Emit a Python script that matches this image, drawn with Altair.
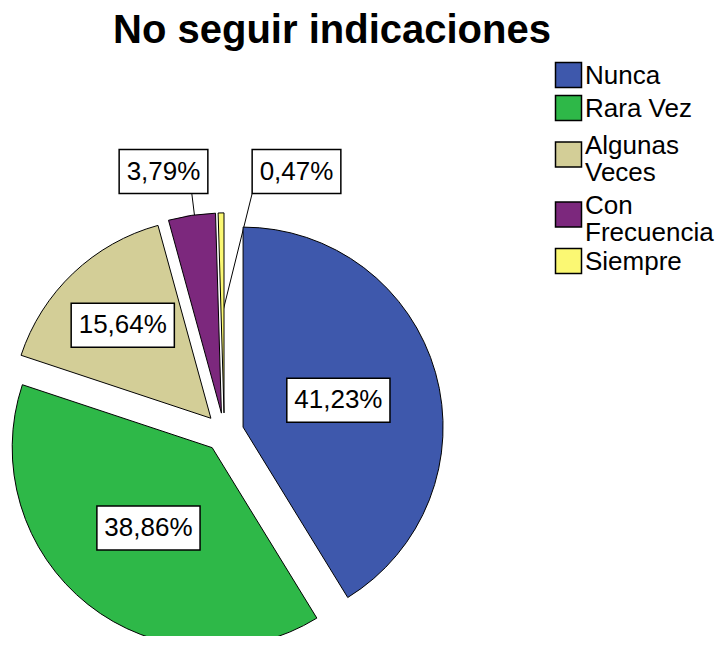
import altair as alt
import pandas as pd

title_text = "No seguir indicaciones"
categories = ["Nunca", "Rara Vez", "Algunas Veces", "Con Frecuencia", "Siempre"]
legend_labels = ["Nunca", "Rara Vez", "Algunas\nVeces", "Con\nFrecuencia", "Siempre"]
percentages = [41.23, 38.86, 15.64, 3.79, 0.47]
colors = ["#3E58AC", "#2EB848", "#D3CE97", "#7C287D", "#FBF873"]

FONT = "Liberation Sans"
CX, CY, R, D = 216.3, 424.4, 200, 19.5
FS = 26
LFS = 26
LH = 27

df = pd.DataFrame({
    "cat": categories,
    "leg": legend_labels,
    "pct": percentages,
    "order": list(range(len(categories))),
})

base = (
    alt.Chart(df)
    .transform_joinaggregate(total="sum(pct)")
    .transform_window(cum="sum(pct)", sort=[alt.SortField("order")], frame=[None, 0])
    .transform_calculate(
        t1="datum.cum / datum.total * 2 * PI",
        t0="(datum.cum - datum.pct) / datum.total * 2 * PI",
    )
    .transform_calculate(mid="(datum.t0 + datum.t1) / 2", span="datum.t1 - datum.t0")
    .transform_calculate(
        cx=f"{CX} + {D} * sin(datum.mid)",
        cy=f"{CY} - {D} * cos(datum.mid)",
        inside="datum.pct >= 5 ? 1 : 0",
        label="replace(format(datum.pct, '.2f'), '.', ',') + '%'",
        rc=f"4 * {R} * sin(datum.span / 2) / (3 * datum.span)",
    )
    .transform_window(srank="row_number()", groupby=["inside"], sort=[alt.SortField("order")])
    .transform_calculate(
        lx=f"datum.inside ? datum.cx + datum.rc * sin(datum.mid) : 222 + (datum.srank - 1.5) * 133",
        ly=f"datum.inside ? datum.cy - datum.rc * cos(datum.mid) : 163.5",
        ox=f"datum.cx + {R} * sin(datum.mid)",
        ix=f"datum.cx + {R} * 0.5 * sin(datum.mid)",
        iy=f"datum.cy - {R} * 0.5 * cos(datum.mid)",
        bw=f"(length(datum.label) - 2) * 0.556 * {FS} + 1.167 * {FS} + 15",
    )
    .transform_calculate(
        bx="datum.lx - datum.bw / 2",
        bx2="datum.lx + datum.bw / 2",
        by="datum.ly - 22",
        by2="datum.ly + 22",
    )
    .transform_calculate(
        sx="clamp(datum.ox, datum.bx, datum.bx2)",
    )
)

color_scale = alt.Scale(domain=categories, range=colors)

leaders = base.transform_filter("datum.inside == 0").mark_rule(color="black", strokeWidth=1).encode(
    x=alt.X("sx:Q", scale=None),
    y=alt.Y("by2:Q", scale=None),
    x2="ix:Q",
    y2="iy:Q",
)

arcs = base.mark_arc(stroke="black", strokeWidth=1).encode(
    theta=alt.Theta("t0:Q", scale=None, stack=None),
    theta2="t1:Q",
    radius=alt.value(R),
    x=alt.X("cx:Q", scale=None),
    y=alt.Y("cy:Q", scale=None),
    fill=alt.Fill("cat:N", scale=color_scale, legend=None),
)

boxes = base.mark_rect(fill="white", stroke="black", strokeWidth=1.5).encode(
    x=alt.X("bx:Q", scale=None),
    x2="bx2:Q",
    y=alt.Y("by:Q", scale=None),
    y2="by2:Q",
)

labels = base.mark_text(font=FONT, fontSize=FS, color="black", align="center", baseline="middle").encode(
    x=alt.X("lx:Q", scale=None),
    y=alt.Y("ly:Q", scale=None),
    text="label:N",
)

# legend
leg_base = (
    alt.Chart(df)
    .transform_calculate(nl="indexof(datum.leg, '\\n') >= 0 ? 2 : 1")
    .transform_calculate(h="datum.nl == 2 ? 60 : 33")
    .transform_window(hc="sum(h)", sort=[alt.SortField("order")], frame=[None, 0])
    .transform_calculate(ly="50.5 + datum.hc - datum.h / 2")
    .transform_calculate(
        sy="datum.ly - 12.5",
        sy2="datum.ly + 12.5",
        ty=f"datum.ly - (datum.nl - 1) * {LH} / 2 + (datum.nl - 1) * 4 + 1",
    )
)

leg_sq = leg_base.mark_rect(stroke="black", strokeWidth=1.5).encode(
    x=alt.value(547.5),
    x2=alt.value(573.5),
    y=alt.Y("sy:Q", scale=None),
    y2="sy2:Q",
    fill=alt.Fill("cat:N", scale=color_scale, legend=None),
)

leg_txt = leg_base.mark_text(
    font=FONT, fontSize=LFS, align="left", baseline="middle", lineBreak="\n", lineHeight=LH, color="black"
).encode(
    x=alt.value(577),
    y=alt.Y("ty:Q", scale=None),
    text="leg:N",
)

title = alt.Chart(pd.DataFrame({"t": [title_text]})).mark_text(
    font=FONT, fontSize=40, fontWeight="bold", align="center", baseline="alphabetic", color="black"
).encode(x=alt.value(324), y=alt.value(35), text="t:N")

chart = (
    alt.layer(leaders, arcs, boxes, labels, leg_sq, leg_txt, title)
    .properties(width=707, height=628, padding=0, autosize=alt.AutoSizeParams(type="none"))
    .configure_view(stroke=None)
)

chart.save("out.html", embed_options={"renderer": "svg", "actions": False})
